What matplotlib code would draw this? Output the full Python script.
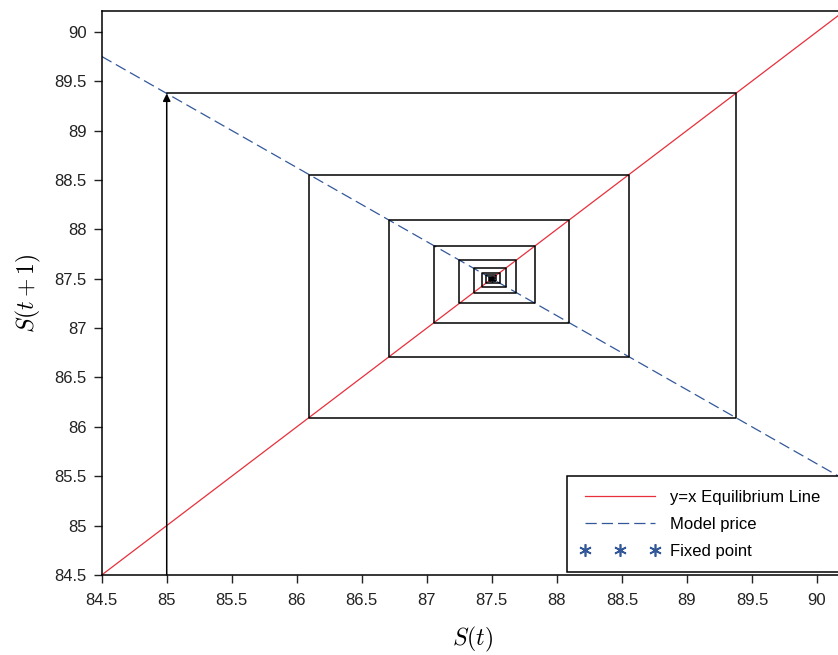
import matplotlib
matplotlib.use("Agg")
import matplotlib.pyplot as plt
from matplotlib.lines import Line2D

plt.rcParams['font.family'] = ['Liberation Sans', 'DejaVu Sans']
plt.rcParams['mathtext.fontset'] = 'cm'

# price iterates S(0), S(1), ... of the cobweb
prices = [85.0, 89.375, 86.0938, 88.5547, 86.7090, 88.0933, 87.0550, 87.8338,
          87.2497, 87.6877, 87.3592, 87.6056, 87.4208, 87.5594, 87.4554,
          87.5334, 87.4749, 87.5188, 87.4859, 87.5106, 87.4921, 87.5059,
          87.4955, 87.5033, 87.4975, 87.5019, 87.4986, 87.5011, 87.4992,
          87.5006, 87.4996]

# equilibrium line y = x and the model price line
eq_x = [84.5, 90.2]
eq_y = [84.5, 90.2]
model_x = [84.5, 90.2]
model_y = [89.75, 85.475]
fixed_point = (87.5, 87.5)

ticks = [84.5, 85, 85.5, 86, 86.5, 87, 87.5, 88, 88.5, 89, 89.5, 90]
tick_labels = ['84.5', '85', '85.5', '86', '86.5', '87', '87.5', '88',
               '88.5', '89', '89.5', '90']

RED = '#e8303c'
BLUE = '#33589a'

W, H = 838, 655
fig = plt.figure(figsize=(W / 100, H / 100), dpi=100)
# axes run slightly past the right edge of the canvas
left, right, top, bottom = 101.7, 843, 11, 575
ax = fig.add_axes([left / W, (H - bottom) / H, (right - left) / W, (bottom - top) / H])

ax.plot(eq_x, eq_y, color=RED, lw=0.9)
ax.plot(model_x, model_y, color=BLUE, lw=0.9, dashes=(9, 4))

ax.plot([fixed_point[0]], [fixed_point[1]], linestyle='none', marker=(6, 2, 0),
        ms=5, mew=1.0, color=BLUE, zorder=1)

# cobweb path
cx, cy = [], []
for i in range(len(prices) - 1):
    cx += [prices[i], prices[i + 1]]
    cy += [prices[i + 1], prices[i + 1]]
    if i + 2 < len(prices):
        cx.append(prices[i + 1])
        cy.append(prices[i + 2])
ax.plot(cx, cy, color='black', lw=1.1, zorder=3)

ax.annotate('', xy=(prices[0], prices[1]), xytext=(prices[0], 84.5),
            arrowprops=dict(arrowstyle='-|>', color='black', lw=1.1,
                            mutation_scale=11, shrinkA=0, shrinkB=0))

ax.set_xlim(84.5, 90.2)
ax.set_ylim(84.5, 90.21)
ax.set_xticks(ticks)
ax.set_xticklabels(tick_labels)
ax.set_yticks(ticks)
ax.set_yticklabels(tick_labels)
ax.tick_params(direction='out', length=6, width=1, labelsize=12, colors='#222222')
ax.tick_params(axis='x', pad=7)
ax.tick_params(axis='y', pad=5)
for s in ax.spines.values():
    s.set_linewidth(1.1)

ax.set_xlabel(r'$S(t)$', fontsize=17, labelpad=12)
ax.set_ylabel(r'$S(t+1)$', fontsize=17, labelpad=8)

handles = [
    Line2D([], [], color=RED, lw=0.9),
    Line2D([], [], color=BLUE, lw=0.9, dashes=(9, 4)),
    Line2D([], [], linestyle='none', marker=(6, 2, 0), ms=9, mew=1.2, color=BLUE),
]
leg = fig.legend(handles, ['y=x Equilibrium Line', 'Model price', 'Fixed point'],
                 loc='lower left', bbox_to_anchor=(567 / W, (H - 572) / H, 290 / W, 0),
                 mode='expand', frameon=True, fancybox=False, edgecolor='black',
                 framealpha=1, fontsize=12, handlelength=4.8, numpoints=3,
                 borderpad=0.8, labelspacing=0.72, handletextpad=0.6, borderaxespad=0)
leg.get_frame().set_linewidth(1.1)

fig.savefig('out.png', dpi=100)
